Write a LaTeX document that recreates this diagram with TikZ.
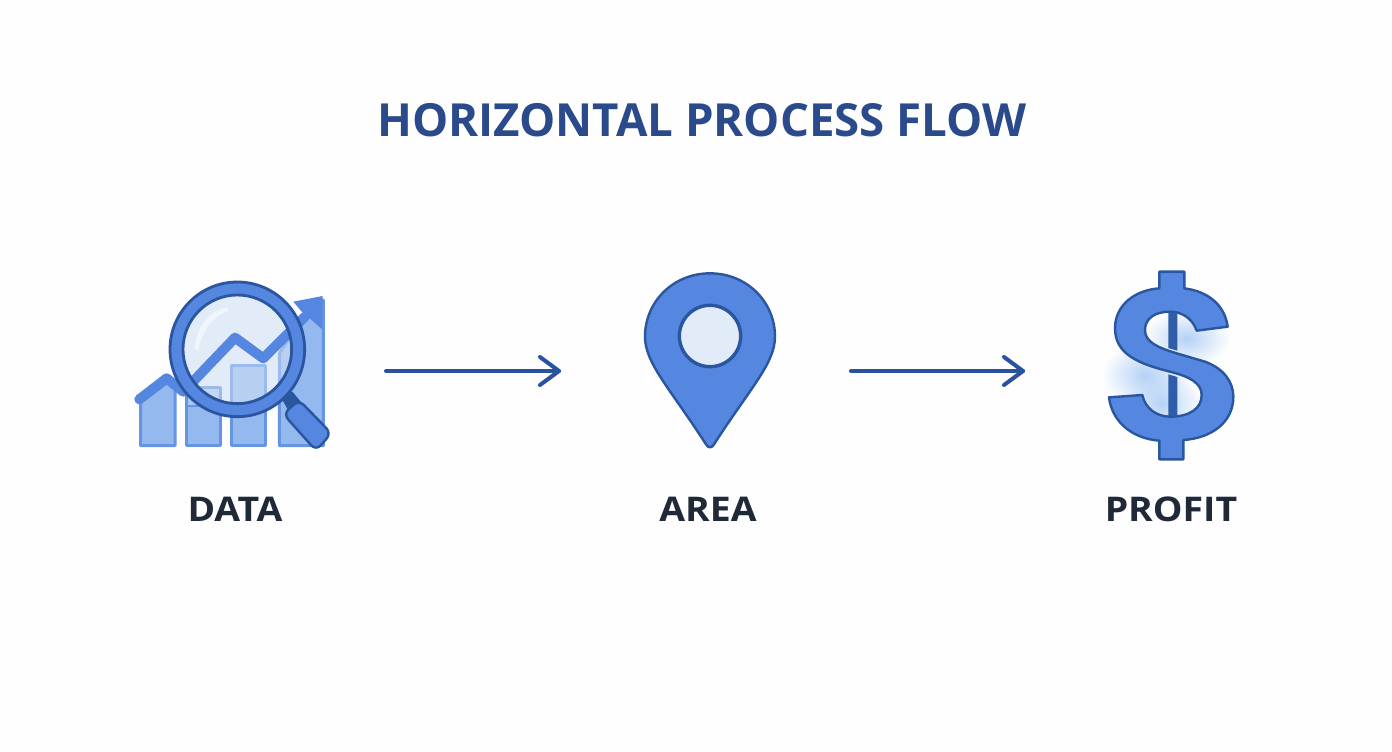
\documentclass[tikz,border=0pt]{standalone}
\usepackage{fontspec}
\setmainfont{Open Sans}
\usetikzlibrary{arrows.meta,fadings}
\definecolor{pagebg}{HTML}{FEFEFE}
\definecolor{titleblue}{HTML}{2B4A8C}
\definecolor{labeldark}{HTML}{1F2937}
\definecolor{linkblue}{HTML}{2A51A0}
\definecolor{iconfill}{HTML}{5587E0}
\definecolor{iconedge}{HTML}{2A559F}
\definecolor{barfill}{HTML}{94B9EE}
\definecolor{baredge}{HTML}{6494E2}
\definecolor{lensfill}{HTML}{E2ECF9}
\definecolor{glow}{HTML}{B4D2F7}
\tikzfading[name=softglow,inner color=transparent!0,outer color=transparent!100]
\pgfdeclarearrow{
  name=ChevronTip,
  setup code={\pgfarrowssettipend{2pt}\pgfarrowssetlineend{0pt}\pgfarrowssetvisualbackend{-20pt}},
  drawing code={%
    \pgfsetdash{}{0pt}\pgfsetroundcap\pgfsetroundjoin
    \pgfpathmoveto{\pgfpoint{-19pt}{14pt}}%
    \pgfpathlineto{\pgfpointorigin}%
    \pgfpathlineto{\pgfpoint{-19pt}{-14pt}}%
    \pgfusepathqstroke}
}
\tikzset{
  titletext/.style={font=\bfseries\fontsize{45.6}{52}\selectfont,text=titleblue,inner sep=0pt},
  captiontext/.style={font=\bfseries\fontsize{34}{40}\selectfont,text=labeldark,inner sep=0pt,xscale=1.1},
  flowlink/.style={draw=linkblue,line width=4pt,line cap=round,-ChevronTip},
  chartbar/.style={fill=barfill,draw=baredge,line width=3pt,line join=round},
  iconshape/.style={fill=iconfill,draw=iconedge,line width=2.4pt,line join=round},
  zoomA/.style={x=1pt/3,y=-1pt/3,shift={(120pt,-270pt)}},
  zoomB/.style={x=1pt/3,y=-1pt/3,shift={(1090pt,-260pt)}},
  zoomC/.style={x=1pt/3,y=-1pt/3,shift={(630pt,-260pt)}}
}
\begin{document}
\begin{tikzpicture}[x=1pt,y=-1pt]
\useasboundingbox (0,0) rectangle (1392,752);
\fill[pagebg] (0,0) rectangle (1392,752);
\node[titletext] (title) at (702,120) {HORIZONTAL PROCESS FLOW};
% DATA icon
\begin{scope}[zoomA]
  \fill[lensfill] (352,238) circle[radius=165];
  \path[chartbar] (62,527) -- (62,385) -- (140,330) -- (165,348) -- (165,527) -- cycle;
  \path[chartbar] (198,527) -- (198,405) -- (302,405) -- (302,527) -- cycle;
  \path[chartbar,fill=barfill!80] (198,405) -- (198,352) -- (302,352) -- (302,405);
  \path[chartbar] (335,527) -- (335,285) -- (437,285) -- (437,527) -- cycle;
  \path[chartbar] (478,527) -- (478,250) -- (530,170) -- (610,90) -- (610,527) -- cycle;
  \fill[lensfill,opacity=.45] (352,238) circle[radius=165];
  \draw[draw=iconfill,line width=10pt,line join=round,line cap=round] (58,388) -- (140,325) -- (190,365) -- (345,203) -- (430,265) -- (555,140);
  \fill[iconfill] (520,95) -- (608,78) -- (606,178) -- (575,150) -- (545,125) -- cycle;
  \fill[white,opacity=.55] (225,240) .. controls (225,170) and (270,125) .. (320,112) -- (325,122) .. controls (280,140) and (245,180) .. (235,240) -- cycle;
  \path[iconshape,fill=iconedge] (490,388) -- (515,368) -- (550,410) -- (520,440) -- cycle;
  \path[iconshape,rounded corners=7pt] (490,432) -- (537,390) -- (634,490) -- (588,542) -- cycle;
  \path[iconshape,even odd rule,line width=2.8pt] (352,238) circle[radius=202] (352,238) circle[radius=163];
\end{scope}
% AREA icon
\begin{scope}[zoomC]
  \path[iconshape] (240,40) .. controls (130,40) and (45,125) .. (45,230)
     .. controls (45,310) and (120,385) .. (228,553)
     .. controls (235,565) and (245,565) .. (252,553)
     .. controls (360,385) and (435,310) .. (435,230)
     .. controls (435,125) and (350,40) .. (240,40) -- cycle;
  \path[fill=lensfill,draw=iconedge,line width=3.4pt] (240,228) circle[radius=92];
\end{scope}
% PROFIT icon
\begin{scope}[zoomB]
  \fill[glow,path fading=softglow] (290,235) ellipse[x radius=130,y radius=85];
  \fill[glow,path fading=softglow] (165,345) ellipse[x radius=130,y radius=95];
  \fill[glow,path fading=softglow] (215,430) ellipse[x radius=120,y radius=100];
  \path[iconshape] (208,35) -- (283,35) -- (283,85)
     .. controls (360,95) and (405,140) .. (413,200) -- (320,212)
     .. controls (305,170) and (270,155) .. (240,155)
     .. controls (195,155) and (165,175) .. (165,210)
     .. controls (165,245) and (200,262) .. (260,280)
     -- (345,305)
     .. controls (400,325) and (430,365) .. (430,410)
     .. controls (430,490) and (360,535) .. (280,540)
     -- (280,598) -- (208,598) -- (208,542)
     .. controls (120,535) and (65,480) .. (57,412) -- (157,405)
     .. controls (165,445) and (200,470) .. (240,470)
     .. controls (300,470) and (335,445) .. (335,405)
     .. controls (335,370) and (300,350) .. (240,335)
     .. controls (140,310) and (75,280) .. (75,205)
     .. controls (75,135) and (135,90) .. (208,85) -- cycle;
  \fill[iconedge!85!iconfill] (235,157) -- (262,157) -- (262,272) -- (235,264) -- cycle;
  \fill[iconedge!85!iconfill] (235,343) -- (262,351) -- (262,468) -- (235,469) -- cycle;
\end{scope}
% labels
\node[captiontext] (data) at (235,509) {DATA};
\node[captiontext] (area) at (708,509) {AREA};
\node[captiontext] (profit) at (1171,509) {PROFIT};
% connectors
\coordinate (linkAstart) at (386,371);
\coordinate (linkAend) at (561,371);
\coordinate (linkBstart) at (851,371);
\coordinate (linkBend) at (1025,371);
\draw[flowlink] (linkAstart) -- (linkAend);
\draw[flowlink] (linkBstart) -- (linkBend);
\end{tikzpicture}
\end{document}
